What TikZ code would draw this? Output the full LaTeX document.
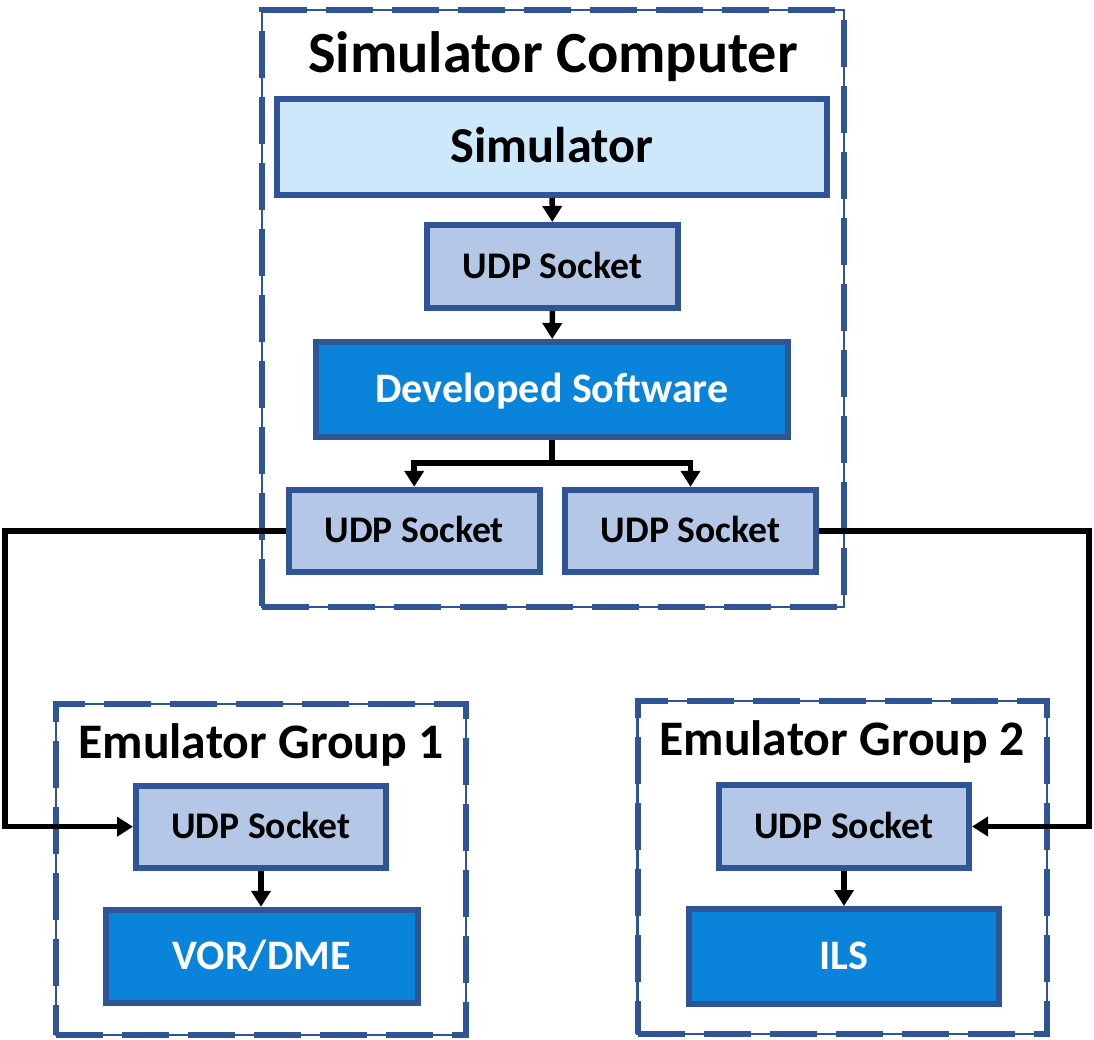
\documentclass[tikz,border=0pt]{standalone}
\usepackage{fontspec}
\setmainfont{Carlito}
\usetikzlibrary{arrows.meta}
\definecolor{bordc}{HTML}{2F5597}
\definecolor{simfill}{HTML}{CDE8FB}
\definecolor{udpfill}{HTML}{B4C7E7}
\definecolor{darkfill}{HTML}{0984DA}
\tikzset{
  container/.style={draw=bordc, line width=2.5pt, inner sep=0pt,
    postaction={draw=bordc, line width=6pt, dash pattern=on 47pt off 19pt}},
  boxbase/.style={draw=bordc, line width=6pt, inner sep=0pt, text depth=0pt},
  simbox/.style={boxbase, fill=simfill, font=\fontsize{50.3}{50.3}\selectfont\bfseries, text height=31.8pt},
  udpbox/.style={boxbase, fill=udpfill, font=\fontsize{37.6}{37.6}\selectfont\bfseries, text height=23.8pt},
  darkbox/.style={boxbase, fill=darkfill, text=white, font=\fontsize{42}{42}\selectfont\bfseries, text height=26.5pt},
  titletext/.style={anchor=base, inner sep=0pt, font=\fontsize{#1}{#1}\selectfont\bfseries},
  conn/.style={draw=black, line width=5.5pt},
  arr/.style={conn, -{Triangle[width=19pt,length=16pt]}},
}
\begin{document}
\begin{tikzpicture}[x=1pt,y=-1pt]
\useasboundingbox (0,0) rectangle (1094,1040);
% containers
\node[container, minimum width=582pt, minimum height=597pt] (simc) at (553,308.5) {};
\node[container, minimum width=410pt, minimum height=331pt] (emg1) at (261,869.5) {};
\node[container, minimum width=409.5pt, minimum height=333pt] (emg2) at (842.3,867.5) {};
% titles
\node[titletext=58.3] (simct) at (553,73) {Simulator Computer};
\node[titletext=49.7] (emg1t) at (261,758) {Emulator Group 1};
\node[titletext=49.7] (emg2t) at (842,755) {Emulator Group 2};
% boxes
\node[simbox, minimum width=550pt, minimum height=96pt] (sim) at (552,147) {Simulator};
\node[udpbox, minimum width=251pt, minimum height=83pt] (udp1) at (552.5,266.5) {UDP Socket};
\node[darkbox, minimum width=472pt, minimum height=95pt] (dev) at (552,389.5) {Developed Software};
\node[udpbox, minimum width=251pt, minimum height=82pt] (udpl) at (414.2,530.8) {UDP Socket};
\node[udpbox, minimum width=251pt, minimum height=82pt] (udpr) at (690.5,530.8) {UDP Socket};
\node[udpbox, minimum width=250pt, minimum height=82pt] (e1udp) at (261,826.7) {UDP Socket};
\node[darkbox, minimum width=312pt, minimum height=93pt] (vor) at (261.8,956.3) {VOR/DME};
\node[udpbox, minimum width=250pt, minimum height=83pt] (e2udp) at (844,826.5) {UDP Socket};
\node[darkbox, minimum width=310pt, minimum height=95pt] (ils) at (844,956.5) {ILS};
% connectors
\coordinate (fork) at (552,463);
\coordinate (lc) at (5,530.8);
\coordinate (rc) at (1089,530.8);
\draw[arr] (sim) -- (udp1);
\draw[arr] (udp1) -- (dev);
\draw[conn] (dev.south) -- (fork);
\draw[arr] (fork) -| (udpl.north);
\draw[arr] (fork) -| (udpr.north);
\draw[arr] (udpl.west) -- (lc) |- (e1udp.west);
\draw[arr] (udpr.east) -- (rc) |- (e2udp.east);
\draw[arr] (e1udp.south) -- (e1udp.south |- vor.north);
\draw[arr] (e2udp.south) -- (e2udp.south |- ils.north);
\end{tikzpicture}
\end{document}
